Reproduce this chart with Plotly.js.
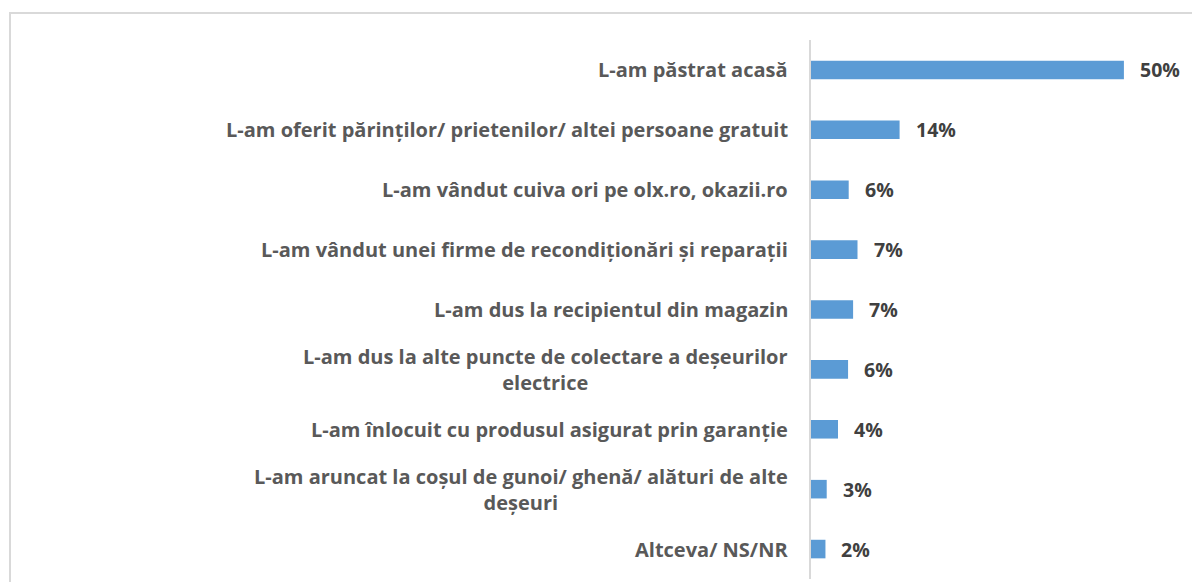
<!DOCTYPE html>
<html>
<head>
<meta charset="utf-8">
<script src="https://cdn.plot.ly/plotly-3.0.1.min.js"></script>
<style>
  html, body { margin: 0; padding: 0; background: #fff; }
  #wrap { position: relative; width: 1192px; height: 582px; overflow: hidden; }
  #chart { position: absolute; left: 0; top: 0; width: 1192px; height: 582px; }
  #frame { position: absolute; left: 9px; top: 12px; width: 1200px; height: 600px;
           border-left: 2px solid #d9d9d9; border-top: 2px solid #d9d9d9; pointer-events: none; }
</style>
</head>
<body>
<div id="wrap">
  <div id="chart"></div>
  <div id="frame"></div>
</div>
<script>
const categories = [
  "L-am păstrat acasă",
  "L-am oferit părinților/ prietenilor/ altei persoane gratuit",
  "L-am vândut cuiva ori pe olx.ro, okazii.ro",
  "L-am vândut unei firme de recondiționări și reparații",
  "L-am dus la recipientul din magazin",
  "L-am dus la alte puncte de colectare a deșeurilor<br>electrice",
  "L-am înlocuit cu produsul asigurat prin garanție",
  "L-am aruncat la coșul de gunoi/ ghenă/ alături de alte<br>deșeuri",
  "Altceva/ NS/NR"
];
const values = [49.8, 14.1, 6.0, 7.4, 6.7, 5.9, 4.3, 2.5, 2.3];
const valueLabels = ["50%", "14%", "6%", "7%", "7%", "6%", "4%", "3%", "2%"];

const FONT = "'Open Sans', sans-serif";

const trace = {
  type: "bar",
  orientation: "h",
  x: values,
  y: categories,
  marker: { color: "#5b9bd5" },
  hoverinfo: "none"
};

const annotations = [];
categories.forEach((c, i) => {
  annotations.push({
    x: 0, y: c, xref: "x", yref: "y",
    text: "<b>" + c + "</b>",
    showarrow: false, xanchor: "right", yanchor: "middle",
    align: "center", xshift: -21,
    font: { family: FONT, size: 20, color: "#595959" }
  });
  annotations.push({
    x: values[i], y: c, xref: "x", yref: "y",
    text: "<b>" + valueLabels[i] + "</b>",
    showarrow: false, xanchor: "left", yanchor: "middle",
    xshift: 14,
    font: { family: FONT, size: 19.5, color: "#404040" }
  });
});

const layout = {
  width: 1192, height: 582,
  margin: { l: 811, r: 4, t: 40, b: 3, pad: 0 },
  paper_bgcolor: "#ffffff",
  plot_bgcolor: "#ffffff",
  showlegend: false,
  bargap: 0.69,
  xaxis: { range: [0, 60], visible: false, fixedrange: true },
  yaxis: {
    autorange: "reversed", showticklabels: false, ticks: "",
    showgrid: false, zeroline: false,
    showline: true, linecolor: "#d9d9d9", linewidth: 2, fixedrange: true
  },
  annotations: annotations
};

Plotly.newPlot("chart", [trace], layout, { displayModeBar: false, staticPlot: true });
</script>
</body>
</html>
